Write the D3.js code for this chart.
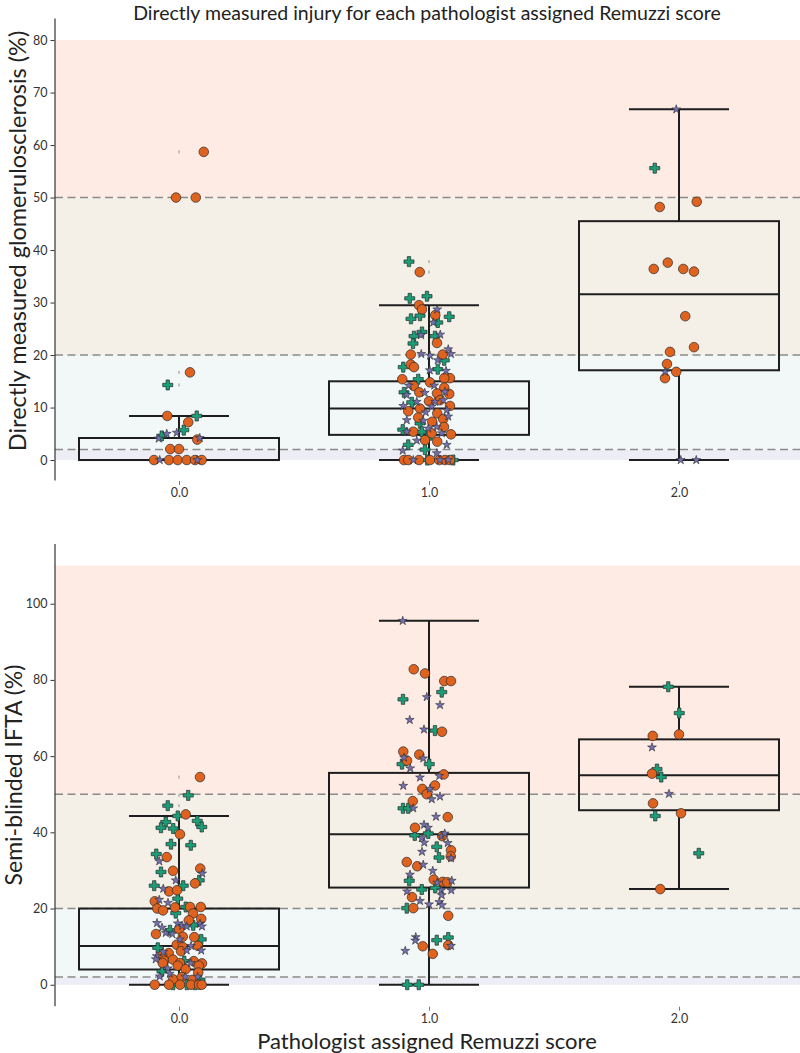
<!DOCTYPE html>
<html>
<head>
<meta charset="utf-8">
<script src="https://cdn.jsdelivr.net/npm/d3@7/dist/d3.min.js"></script>
<style>
  html, body { margin: 0; padding: 0; background: #fff; }
  svg { display: block; font-family: Lato, "Open Sans", sans-serif; }
</style>
</head>
<body>
<svg id="chart" width="800" height="1053"></svg>
<script>
// ---------- DATA ----------
const categories = [0, 1, 2];
const tickLabels = ["0.0", "1.0", "2.0"];
const titleText = "Directly measured injury for each pathologist assigned Remuzzi score";
const xLabelText = "Pathologist assigned Remuzzi score";
const gsLabelText = "Directly measured glomerulosclerosis (%)";
const iftaLabelText = "Semi-blinded IFTA (%)";

const gsTicks = [0, 10, 20, 30, 40, 50, 60, 70, 80];
const iftaTicks = [0, 20, 40, 60, 80, 100];

const gsBandEdges = [0, 2, 20, 50, 80];
const iftaBandEdges = [0, 2, 20, 50, 110];
const thresholds = [2, 20, 50];

// box stats per category: [lowerWhisker, q1, median, q3, upperWhisker]
const gsBoxStats = [
  [0, 0, 0, 4.2, 8.4],
  [0, 4.8, 9.8, 15.0, 29.5],
  [0, 17.1, 31.6, 45.5, 66.8]
];
const iftaBoxStats = [
  [0, 4.0, 10.2, 20.0, 44.3],
  [0, 25.5, 39.5, 55.6, 95.5],
  [25.1, 45.8, 55.0, 64.4, 78.2]
];

// points: [x (score + jitter), value]
const gsCircles = [
  [-0.012,50],[0.067,50],[0.099,58.7],[0.044,16.7],[-0.047,8.4],[0.037,7.2],[0.073,3.9],[-0.035,2.1],[0.0,2.1],
  [-0.10,0],[-0.04,0],[-0.005,0],[0.031,0],[0.064,0],[0.091,0],
  [0.963,35.8],[0.96,29.5],[0.972,28.7],[1.025,27.6],[1.032,22.3],[0.927,20.1],[1.055,20.1],[0.927,18.2],[0.94,17.7],
  [0.893,15.4],[1.084,15.6],[1.061,15.6],[1.004,14.8],[0.939,14.1],[1.061,13.8],[0.961,12.9],[1.081,12.6],[1.032,12.7],
  [1.0,11.2],[1.044,11.4],[0.964,9.8],[1.084,10.3],[0.917,9.3],[1.033,8.9],[0.957,8.1],[1.057,7.8],[1.013,7.3],[1.06,6.3],
  [0.937,5.4],[1.011,5.1],[1.088,4.9],[0.984,3.8],[1.033,3.5],
  [0.9,0],[0.917,0],[0.96,0],[1.004,0],[1.041,0],[1.064,0],[1.084,0],
  [1.923,48.2],[2.071,49.2],[1.899,36.4],[1.955,37.6],[2.017,36.4],[2.06,35.9],[2.025,27.4],[2.06,21.5],[1.964,20.6],
  [1.952,18.3],[1.989,16.8],[1.944,15.6]
];
const gsCrosses = [
  [-0.045,14.3],[0.071,8.4],[0.019,5.7],[-0.069,4.6],
  [0.92,37.8],[0.923,30.8],[0.992,31.2],[0.928,26.9],[0.964,27.5],[1.081,27.3],[1.035,26.2],[0.94,23.6],[0.972,24.4],
  [0.936,22.2],[1.024,23.6],[1.061,19.0],[0.897,17.7],[1.035,17.3],[0.957,15.4],[0.9,12.9],[0.931,11.0],[0.964,7.0],
  [0.895,5.8],[0.971,5.4],[0.993,4.1],[0.917,2.9],[0.984,2.0],[0.993,0],[1.097,0],
  [1.903,55.6]
];
const gsStars = [
  [-0.009,5.2],[-0.049,5.0],[-0.081,4.1],[0.083,4.2],[-0.077,0],[0.073,0],
  [1.033,28.7],[1.017,26.2],[0.968,23.8],[1.045,23.9],[0.969,20.2],[1.004,19.9],[1.077,21.1],[1.088,20.2],[1.035,19.0],
  [1.003,17.1],[1.068,17.0],[1.021,14.2],[0.919,14.2],[1.064,13.0],[0.983,12.8],[0.911,12.4],[0.951,11.1],[1.024,11.1],
  [1.057,11.4],[0.897,10.3],[1.011,10.2],[1.071,9.5],[0.987,9.1],[0.911,7.6],[1.077,8.3],[0.977,7.5],[1.031,6.3],
  [0.911,5.4],[0.997,6.0],[1.051,5.1],[0.951,3.7],[1.071,2.9],[0.895,1.8],[1.031,1.3],[0.937,0],[1.044,0],[1.077,0],
  [1.989,66.8],[1.945,16.8],[2.007,0],[2.069,0]
];

const iftaCircles = [
  [0.084,54.5],[0.027,44.7],[0.004,39.5],[-0.049,33.5],[-0.024,29.9],[0.085,30.5],[0.064,26.6],[-0.04,24.5],[-0.008,24.8],
  [-0.097,21.9],[-0.087,20.0],[-0.064,19.5],[-0.016,20.3],[0.044,20.4],[0.087,20.4],[0.056,18.7],[0.039,16.9],[0.089,17.3],
  [0.0,14.6],[-0.092,13.3],[0.015,12.6],[0.061,12.5],[-0.009,10.5],[0.015,9.9],[0.076,10.2],[-0.041,8.3],[-0.067,7.6],
  [0.008,8.8],[-0.059,6.3],[-0.024,6.6],[0.004,5.7],[-0.065,5.7],[-0.005,5.0],[0.059,6.2],[0.092,5.6],[0.079,5.0],
  [0.027,4.1],[-0.023,1.4],[0.055,1.3],[0.077,3.2],[0.011,2.0],
  [-0.097,0],[-0.04,0],[0.004,0],[0.048,0],[0.08,0],[0.091,0],
  [0.939,82.8],[0.984,81.7],[1.061,79.7],[1.088,79.7],[1.052,66.4],[0.897,61.2],[0.961,60.4],[0.912,58.8],[1.059,55.2],
  [1.024,52.3],[0.973,51.4],[0.991,50.0],[0.935,48.2],[1.075,44.0],[0.944,41.2],[1.053,39.0],[1.088,35.3],[1.087,33.7],
  [0.911,32.2],[0.953,31.1],[1.019,27.6],[1.055,27.0],[1.073,26.9],[0.932,23.0],[0.937,20.1],[1.077,18.1],[0.975,10.1],
  [1.077,10.4],[1.015,8.1],
  [1.895,65.3],[2.0,65.7],[1.892,55.4],[1.896,47.6],[2.008,45.0],[1.925,25.1]
];
const iftaCrosses = [
  [0.037,49.7],[-0.045,47.0],[-0.005,44.3],[-0.053,42.7],[-0.072,41.2],[-0.023,41.0],[0.073,43.0],[0.091,41.4],
  [-0.032,36.9],[0.047,36.6],[-0.091,34.3],[-0.072,29.6],[0.081,27.4],[0.017,26.0],[-0.099,26.0],[-0.005,22.6],
  [-0.013,18.8],[0.027,20.4],[-0.036,14.3],[0.057,15.6],[0.089,11.9],[-0.085,9.7],[0.021,6.2],[-0.068,3.5],[0.084,1.3],
  [-0.023,0],[0.031,0],[0.064,0],
  [1.051,76.8],[0.896,74.9],[1.024,66.7],[0.892,57.9],[1.001,57.9],[0.896,46.3],[0.917,46.3],[0.943,39.2],[0.997,39.7],
  [1.031,36.2],[1.04,33.4],[0.921,27.3],[0.971,25.0],[1.025,25.4],[0.911,20.1],[1.031,11.7],[1.077,12.4],[0.913,0],[0.959,0],
  [1.957,78.2],[2.001,71.3],[1.912,56.6],[1.929,54.5],[1.905,44.3],[2.079,34.5]
];
const iftaStars = [
  [-0.079,32.4],[0.093,29.2],[-0.013,27.4],[-0.063,25.2],[-0.044,21.5],[-0.079,22.3],[-0.088,16.2],[-0.068,15.0],
  [-0.005,16.1],[0.013,15.5],[-0.053,13.6],[-0.027,13.3],[0.031,15.3],[0.084,16.0],[0.092,15.3],[0.004,11.9],
  [-0.063,8.6],[0.048,10.2],[0.089,9.0],[0.031,9.0],[-0.089,7.5],[-0.093,6.7],[0.047,5.7],[-0.045,4.3],[-0.037,2.9],
  [-0.077,2.2],[0.025,2.1],[0.075,2.1],
  [0.895,95.5],[0.991,75.5],[1.044,73.4],[0.923,69.5],[0.98,67.0],[0.9,59.6],[0.977,59.4],[0.925,56.8],[0.964,54.4],
  [1.041,54.8],[0.897,52.2],[1.004,51.4],[1.011,48.7],[1.044,49.4],[0.937,46.3],[1.028,44.1],[0.98,42.0],[0.996,41.2],
  [1.051,39.0],[1.063,39.7],[0.971,38.5],[0.981,37.3],[1.075,37.2],[0.972,34.9],[1.088,33.2],[0.977,31.5],[1.015,29.9],
  [0.924,28.9],[1.091,27.3],[1.033,26.8],[0.912,24.5],[1.049,24.8],[1.089,24.8],[1.051,23.5],[0.964,22.0],[1.0,21.1],
  [1.041,21.7],[1.052,20.9],[0.947,12.5],[0.945,11.6],[1.088,10.2],[0.905,8.9],
  [1.892,62.3],[1.96,50.1]
];

// ---------- STYLE ----------
const bandColors = ["#ededf6", "#f2f7f7", "#f5f0e7", "#fdebe4"];
const groupColors = { circle: "#e0621f", cross: "#1b9e77", star: "#7570b3" };

const svg = d3.select("#chart");
const W = 800;

const x = d3.scaleLinear().domain([-0.5, 2.5]).range([54, 804]);

function panel(cfg) {
  const g = svg.append("g");
  const y = d3.scaleLinear().domain(cfg.yDomain).range(cfg.yRange);
  const left = 55, right = W;

  // bands
  for (let i = 0; i < cfg.bands.length - 1; i++) {
    g.append("rect")
      .attr("x", left).attr("width", right - left)
      .attr("y", y(cfg.bands[i + 1]))
      .attr("height", y(cfg.bands[i]) - y(cfg.bands[i + 1]))
      .attr("fill", bandColors[i]);
  }
  // thresholds
  thresholds.forEach(t => {
    g.append("line")
      .attr("x1", left).attr("x2", right)
      .attr("y1", y(t)).attr("y2", y(t))
      .attr("stroke", "#8a8a8a").attr("stroke-width", 1.5)
      .attr("stroke-dasharray", "8,4.5");
  });

  // boxes
  const boxHalf = (x(0.4) - x(0));
  const capHalf = (x(0.2) - x(0));
  cfg.stats.forEach((s, i) => {
    const cx = x(categories[i]);
    const [lo, q1, med, q3, hi] = s;
    const bg = g.append("g").attr("stroke", "#1e1e1e").attr("stroke-width", 2).attr("fill", "none");
    bg.append("line").attr("x1", cx).attr("x2", cx).attr("y1", y(q3)).attr("y2", y(hi));
    bg.append("line").attr("x1", cx).attr("x2", cx).attr("y1", y(q1)).attr("y2", y(lo));
    bg.append("line").attr("x1", cx - capHalf).attr("x2", cx + capHalf).attr("y1", y(hi)).attr("y2", y(hi));
    bg.append("line").attr("x1", cx - capHalf).attr("x2", cx + capHalf).attr("y1", y(lo)).attr("y2", y(lo));
    bg.append("rect").attr("x", cx - boxHalf).attr("width", 2 * boxHalf)
      .attr("y", y(q3)).attr("height", y(q1) - y(q3));
    bg.append("line").attr("x1", cx - boxHalf).attr("x2", cx + boxHalf).attr("y1", y(med)).attr("y2", y(med));

    // fliers (values beyond whiskers)
    const all = cfg.circles.concat(cfg.crosses, cfg.stars)
      .filter(p => Math.round(p[0]) === categories[i])
      .filter(p => p[1] > hi + 0.05 || p[1] < lo - 0.05);
    g.selectAll(null).data(all).enter().append("rect")
      .attr("x", cx - 0.6).attr("width", 1.2)
      .attr("y", d => y(d[1]) - 1.5).attr("height", 3)
      .attr("fill", "#a0a0a0");
  });

  // points
  const crossSym = d3.symbol().type(d3.symbolCross).size(56);
  const starSym = d3.symbol().type(d3.symbolStar).size(24);
  g.selectAll(null).data(cfg.crosses).enter().append("path")
    .attr("d", crossSym)
    .attr("transform", d => `translate(${x(d[0])},${y(d[1])})`)
    .attr("fill", groupColors.cross).attr("stroke", "#2a2a2a").attr("stroke-width", 0.7);
  g.selectAll(null).data(cfg.circles).enter().append("circle")
    .attr("cx", d => x(d[0])).attr("cy", d => y(d[1])).attr("r", 4.8)
    .attr("fill", groupColors.circle).attr("stroke", "#2a2a2a").attr("stroke-width", 0.7);
  g.selectAll(null).data(cfg.stars).enter().append("path")
    .attr("d", starSym)
    .attr("transform", d => `translate(${x(d[0])},${y(d[1])})`)
    .attr("fill", groupColors.star).attr("stroke", "#2a2a2a").attr("stroke-width", 0.6);

  // y axis
  const ya = g.append("g").attr("transform", "translate(54.5,0)")
    .call(d3.axisLeft(y).tickValues(cfg.ticks).tickSize(4).tickSizeOuter(0).tickPadding(3));
  ya.select(".domain").attr("stroke", "#222").attr("stroke-width", 1.1);
  ya.selectAll(".tick line").attr("stroke", "#333");
  ya.selectAll(".tick text").attr("font-family", "Lato").attr("font-size", 12.5).attr("fill", "#333");

  // x axis (ticks only)
  const xa = g.append("g").attr("transform", `translate(0,${cfg.yRange[0] + 1})`)
    .call(d3.axisBottom(x).tickValues(categories).tickFormat((d, i) => tickLabels[i]).tickSize(4).tickPadding(3));
  xa.select(".domain").remove();
  xa.selectAll(".tick line").attr("stroke", "#555").attr("stroke-width", 0.8);
  xa.selectAll(".tick text").attr("font-family", "Lato").attr("font-size", 12.5).attr("fill", "#333");

  // y label
  svg.append("text")
    .attr("transform", `translate(${cfg.labelX},${cfg.labelY}) rotate(-90)`)
    .attr("text-anchor", "middle")
    .attr("font-family", "Lato").attr("font-size", cfg.labelSize).attr("fill", "#222")
    .text(cfg.label);
}

panel({
  yDomain: [-3.8, 84.2], yRange: [480, 18], ticks: gsTicks, bands: gsBandEdges, stats: gsBoxStats,
  circles: gsCircles, crosses: gsCrosses, stars: gsStars,
  label: gsLabelText, labelX: 26, labelY: 241, labelSize: 23.5
});
panel({
  yDomain: [-5.5, 115.8], yRange: [1005.7, 543.5], ticks: iftaTicks, bands: iftaBandEdges, stats: iftaBoxStats,
  circles: iftaCircles, crosses: iftaCrosses, stars: iftaStars,
  label: iftaLabelText, labelX: 22, labelY: 775, labelSize: 23
});

// title
svg.append("text").attr("x", 427).attr("y", 19.5).attr("text-anchor", "middle")
  .attr("font-family", "Lato").attr("font-size", 19.5).attr("fill", "#222").text(titleText);
// x label
svg.append("text").attr("x", 427).attr("y", 1049).attr("text-anchor", "middle")
  .attr("font-family", "Lato").attr("font-size", 22).attr("fill", "#222").text(xLabelText);
</script>
</body>
</html>
